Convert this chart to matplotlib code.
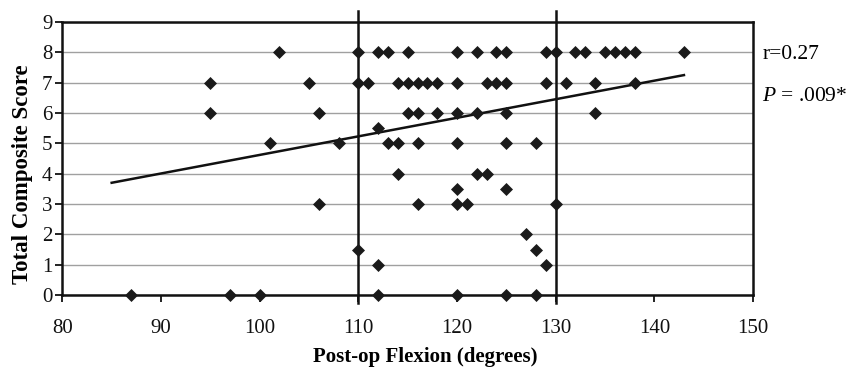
import numpy as np
import matplotlib
matplotlib.use("Agg")
import matplotlib.pyplot as plt

# post-op flexion (degrees) and total composite score
flexion = [87, 95, 95, 97, 100, 101, 102, 105, 106, 106, 108, 110, 110, 110,
           111, 112, 112, 112, 112, 113, 113, 114, 114, 114, 115, 115, 115,
           116, 116, 116, 116, 117, 118, 118, 120, 120, 120, 120, 120, 120,
           120, 121, 122, 122, 122, 123, 123, 124, 124, 125, 125, 125, 125,
           125, 125, 127, 128, 128, 128, 129, 129, 129, 130, 130, 131, 132,
           133, 134, 134, 135, 136, 137, 138, 138, 143]
score = [0, 7, 6, 0, 0, 5, 8, 7, 6, 3, 5, 8, 7, 1.5,
         7, 8, 5.5, 1, 0, 8, 5, 7, 5, 4, 8, 7, 6,
         7, 6, 5, 3, 7, 7, 6, 8, 7, 6, 5, 3.5, 3,
         0, 3, 8, 6, 4, 7, 4, 8, 7, 8, 7, 6, 5,
         3.5, 0, 2, 5, 1.5, 0, 8, 7, 1, 8, 3, 7, 8,
         8, 7, 6, 8, 8, 8, 8, 7, 8]

trend_x = [85, 143]
trend_y = [3.70, 7.25]
cutoffs = [110, 130]

plt.rcParams['font.family'] = ['Liberation Serif', 'DejaVu Serif']
plt.rcParams['mathtext.fontset'] = 'custom'
plt.rcParams['mathtext.it'] = 'Liberation Serif:italic'
plt.rcParams['mathtext.rm'] = 'Liberation Serif'

fig = plt.figure(figsize=(8.48, 3.70), dpi=100)
ax = fig.add_axes([0.0735, 0.2027, 0.8145, 0.7378])

ax.set_xlim(80, 150)
ax.set_ylim(0, 9)
ax.set_xticks(range(80, 151, 10))
ax.set_yticks(range(0, 10))
ax.yaxis.grid(True, color='#a0a0a0', linewidth=1.0)
ax.set_axisbelow(True)

for s in ax.spines.values():
    s.set_linewidth(1.8)
    s.set_color('#111111')
ax.tick_params(direction='out', length=5, width=1.3, labelsize=15,
               colors='#111111')
ax.tick_params(axis='x', pad=12)
ax.tick_params(axis='y', pad=2)

for c in cutoffs:
    ax.plot([c, c], [-0.25, 9.35], color='#111111', linewidth=1.8,
            clip_on=False, zorder=3)

ax.plot(trend_x, trend_y, color='#111111', linewidth=1.8, zorder=4)
ax.scatter(flexion, score, marker='D', s=44, color='#1a1a1a',
           zorder=5, clip_on=False, linewidths=0)

ax.set_xlabel('Post-op Flexion (degrees)', fontsize=15, fontweight='bold')
ax.set_ylabel('Total Composite Score', fontsize=16.5, fontweight='bold')
ax.xaxis.set_label_coords(0.525, -0.192)
ax.yaxis.set_label_coords(-0.043, 0.443)

fig.text(0.899, 0.852, 'r=0.27', fontsize=15.5, va='center', ha='left')
fig.text(0.899, 0.738, r'$P$ = .009*', fontsize=15.5, va='center', ha='left')

fig.savefig('out.png', dpi=100)
